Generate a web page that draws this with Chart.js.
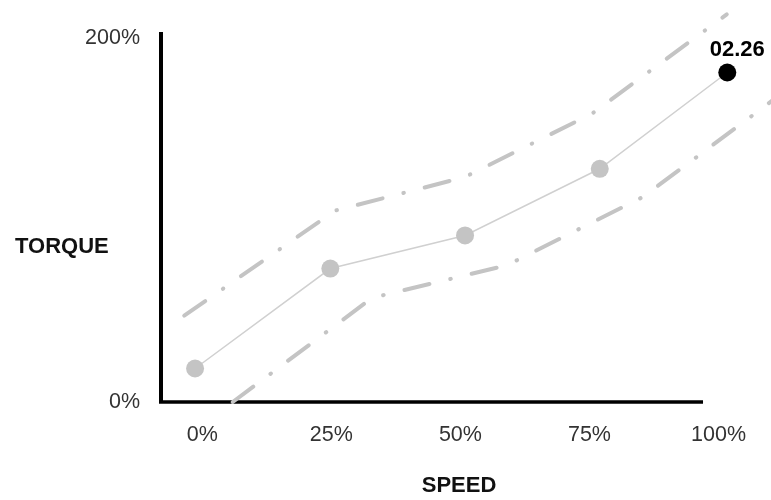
<!DOCTYPE html>
<html>
<head>
<meta charset="utf-8">
<title>Torque vs speed</title>
<script src="https://cdn.jsdelivr.net/npm/chart.js@4/dist/chart.umd.min.js"></script>
<style>
  html, body { margin: 0; padding: 0; background: #fff; }
  #wrap { width: 771px; height: 500px; position: relative; }
</style>
</head>
<body>
<div id="wrap"><canvas id="chart"></canvas></div>
<script>
// values (speed %, torque %)
const speedPct = [-1.4, 24.8, 50.9, 77.0, 101.7];
const torquePct = [18.4, 73.3, 91.5, 128.1, 181.0];

// dash-dot band above and below the curve
const upperSpeed = [-3.5, 25.7, 50.9, 75.5, 101.6];
const upperTorque = [47.4, 105.1, 123.6, 158.4, 212.9];
const lowerSpeed = [5.9, 32.9, 59.0, 85.4, 110.4];
const lowerTorque = [0, 57.2, 75.1, 112.7, 165.5];

const speedTicks = [0, 25, 50, 75, 100];
const torqueTicks = [0, 200];
const speedAxisEnd = 97;   // the drawn x axis stops short of the right edge
const peakLabel = '02.26';
const xTitle = 'SPEED';
const yTitle = 'TORQUE';

const GREY = '#c4c4c4';
const FONT = '"Liberation Sans", Arial, Helvetica, sans-serif';
Chart.defaults.font.family = FONT;

const toPoints = (xs, ys) => xs.map((x, i) => ({ x, y: ys[i] }));

// short x axis line, drawn under the data
const speedAxisLine = {
  id: 'speedAxisLine',
  beforeDatasetsDraw(chart) {
    const { ctx, chartArea, scales } = chart;
    ctx.save();
    ctx.strokeStyle = '#000';
    ctx.lineWidth = 3.5;
    ctx.beginPath();
    ctx.moveTo(chartArea.left - 2, chartArea.bottom);
    ctx.lineTo(scales.x.getPixelForValue(speedAxisEnd), chartArea.bottom);
    ctx.stroke();
    ctx.restore();
  }
};

// axis titles + the peak value label
const annotations = {
  id: 'annotations',
  afterDatasetsDraw(chart) {
    const ctx = chart.ctx;
    ctx.save();
    ctx.fillStyle = '#111';
    ctx.font = 'bold 22px ' + FONT;
    ctx.textBaseline = 'middle';
    ctx.textAlign = 'left';
    ctx.fillText(yTitle, 15, 247);
    ctx.textAlign = 'center';
    ctx.fillText(xTitle, 459, 486);

    const meta = chart.getDatasetMeta(2);
    const last = meta.data[meta.data.length - 1];
    ctx.fillStyle = '#000';
    ctx.textBaseline = 'alphabetic';
    ctx.fillText(peakLabel, last.x + 10, last.y - 16.5);
    ctx.restore();
  }
};

const pointColors = torquePct.map((_, i) => i === torquePct.length - 1 ? '#000' : GREY);

new Chart(document.getElementById('chart'), {
  type: 'line',
  data: {
    datasets: [
      {
        data: toPoints(upperSpeed, upperTorque),
        borderColor: GREY, borderWidth: 4,
        borderDash: [25.6, 21.5, 0.5, 21.5], borderCapStyle: 'round',
        pointRadius: 0, clip: false
      },
      {
        data: toPoints(lowerSpeed, lowerTorque),
        borderColor: GREY, borderWidth: 4,
        borderDash: [25.6, 21.5, 0.5, 21.5], borderCapStyle: 'round',
        pointRadius: 0, clip: false
      },
      {
        data: toPoints(speedPct, torquePct),
        borderColor: '#d0d0d0', borderWidth: 1.5,
        pointRadius: 9, pointBorderWidth: 0,
        pointBackgroundColor: pointColors, pointBorderColor: pointColors,
        clip: false
      }
    ]
  },
  options: {
    responsive: true,
    maintainAspectRatio: false,
    animation: false,
    events: [],
    layout: { autoPadding: false, padding: { left: 84, right: 0, top: 31, bottom: 52 } },
    plugins: { legend: { display: false }, tooltip: { enabled: false } },
    scales: {
      x: {
        type: 'linear', min: -8, max: 110.17,
        grid: { display: false, drawTicks: false },
        border: { display: false },
        afterBuildTicks: axis => { axis.ticks = speedTicks.map(v => ({ value: v })); },
        afterFit: axis => { axis.height = 46; },
        ticks: {
          autoSkip: false, maxRotation: 0, padding: 20,
          color: '#333', font: { size: 21.5 },
          callback: v => v + '%'
        }
      },
      y: {
        type: 'linear', min: 0, max: 202.2,
        grid: { display: false, drawTicks: false },
        border: { display: true, color: '#000', width: 4 },
        afterBuildTicks: axis => { axis.ticks = torqueTicks.map(v => ({ value: v })); },
        afterFit: axis => { axis.width = 77; },
        ticks: {
          padding: 21, color: '#333', font: { size: 21.5 },
          callback: v => v + '%'
        }
      }
    }
  },
  plugins: [speedAxisLine, annotations]
});
</script>
</body>
</html>
